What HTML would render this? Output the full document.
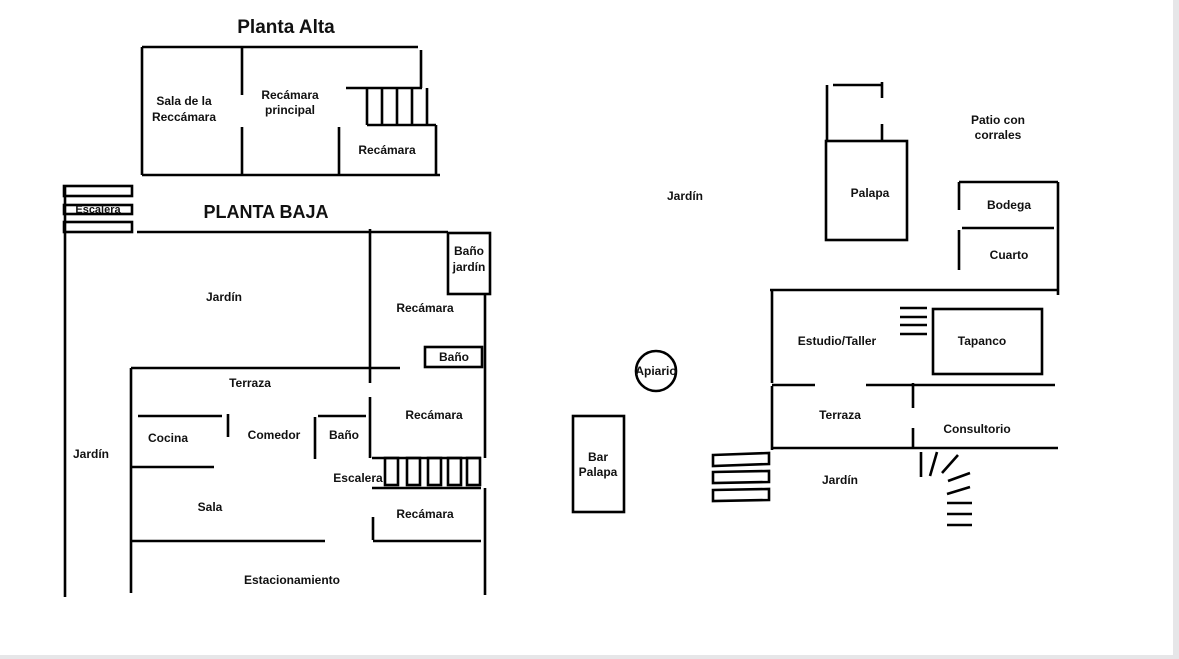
<!DOCTYPE html>
<html><head><meta charset="utf-8"><style>
html,body{margin:0;padding:0;background:#fff}
svg{display:block}
text{font-family:"Liberation Sans",sans-serif;font-weight:bold;font-size:12px;fill:#111;text-anchor:middle}
</style></head><body>
<svg width="1179" height="659" viewBox="0 0 1179 659" xmlns="http://www.w3.org/2000/svg">
<rect x="0" y="0" width="1179" height="659" fill="#fff"/>
<rect x="1173" y="0" width="6" height="659" fill="#e6e6e8"/>
<rect x="0" y="655" width="1179" height="4" fill="#e6e6e8"/>
<g stroke="#000" stroke-width="2.6" fill="none">
<!-- Planta alta -->
<path d="M142 47H418 M142 47V175 M142 175H440 M242 47V95 M242 127V175 M421 50V88 M346 88H422 M367 125H436 M436 125V175 M339 127V175"/>
<path d="M367 88V125 M382 88V125 M397 88V125 M412 88V125 M427 88V125"/>
<!-- Planta baja -->
<rect x="64" y="186" width="68" height="10"/><rect x="64" y="205" width="68" height="9"/><rect x="64" y="222" width="68" height="10"/>
<path d="M137 232H448 M65 186V597 M370 229V383 M370 397V458 M485 294V458 M485 488V595"/>
<rect x="448" y="233" width="42" height="61"/>
<rect x="425" y="347" width="57" height="20"/>
<path d="M131 368H400 M131 368V593 M138 416H222 M228 414V437 M131 467H214 M315 417V459 M318 416H366"/>
<path d="M372 458H481 M372 488H481"/>
<rect x="385" y="458" width="13" height="27"/><rect x="407" y="458" width="13" height="27"/><rect x="428" y="458" width="13" height="27"/><rect x="448" y="458" width="13" height="27"/><rect x="467" y="458" width="13" height="27"/>
<path d="M373 517V540 M373 541H481 M131 541H325"/>
<!-- Right side -->
<rect x="826" y="141" width="81" height="99"/>
<path d="M827 85V141 M833 85H882 M882 82V98 M882 124V141"/>
<rect x="573" y="416" width="51" height="96"/>
<circle cx="656" cy="371" r="20"/>
<path d="M959 182H1058 M959 182V210 M959 230V270 M962 228H1054 M1058 182V295 M770 290H1058 M772 290V383 M772 386V450"/>
<rect x="933" y="309" width="109" height="65"/>
<path d="M900 308H927 M900 317H927 M900 325H927 M900 334H927"/>
<path d="M772 385H815 M866 385H1055 M913 383V408 M913 428V448 M772 448H1058"/>
<path d="M713 455L769 453V464L713 466Z M713 472L769 471V482L713 483Z M713 490L769 489V500L713 501Z"/>
<path d="M921 452V477 M937 452L930 476 M958 455L942 473 M970 473L948 481 M970 487L947 494 M972 503H947 M972 514H947 M972 525H947"/>
</g>
<text x="286" y="33" style="font-size:19px">Planta Alta</text>
<text x="184" y="105">Sala de la</text><text x="184" y="121">Reccámara</text>
<text x="290" y="99">Recámara</text><text x="290" y="114">principal</text>
<text x="387" y="154">Recámara</text>
<text x="98" y="213" style="font-size:11px">Escalera</text>
<text x="266" y="218" style="font-size:18px">PLANTA BAJA</text>
<text x="224" y="301">Jardín</text>
<text x="425" y="312">Recámara</text>
<text x="469" y="255">Baño</text><text x="469" y="271">jardín</text>
<text x="454" y="361">Baño</text>
<text x="250" y="387">Terraza</text>
<text x="434" y="419">Recámara</text>
<text x="168" y="442">Cocina</text>
<text x="274" y="439">Comedor</text>
<text x="344" y="439">Baño</text>
<text x="91" y="458">Jardín</text>
<text x="358" y="482">Escalera</text>
<text x="210" y="511">Sala</text>
<text x="425" y="518">Recámara</text>
<text x="292" y="584">Estacionamiento</text>
<text x="685" y="200">Jardín</text>
<text x="998" y="124">Patio con</text><text x="998" y="139">corrales</text>
<text x="870" y="197">Palapa</text>
<text x="1009" y="209">Bodega</text>
<text x="1009" y="259">Cuarto</text>
<text x="837" y="345">Estudio/Taller</text>
<text x="982" y="345">Tapanco</text>
<text x="840" y="419">Terraza</text>
<text x="977" y="433">Consultorio</text>
<text x="840" y="484">Jardín</text>
<text x="656" y="375">Apiario</text>
<text x="598" y="461">Bar</text><text x="598" y="476">Palapa</text>
</svg>
</body></html>
